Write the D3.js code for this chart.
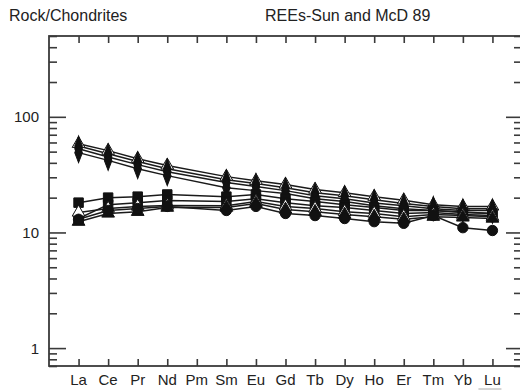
<!DOCTYPE html>
<html>
<head>
<meta charset="utf-8">
<script src="https://cdn.jsdelivr.net/npm/d3@7"></script>
<style>
  body { margin: 0; background: #fff; }
  svg { display: block; font-family: "Liberation Sans", Arial, sans-serif; }
</style>
</head>
<body>
<div id="chart"></div>
<script>
// Elements on the x axis (Pm has no data).
var elements = ['La', 'Ce', 'Pr', 'Nd', 'Pm', 'Sm', 'Eu', 'Gd', 'Tb', 'Dy', 'Ho', 'Er', 'Tm', 'Yb', 'Lu'];

// Rock / chondrite normalised values, one array per sample.
var u1 = [58.5, 51, 43.4, 38, null, 30.4, 28, 26, 23.5, 22, 20.4, 19, 17.4, 16.8, 16.8];
var u2 = [56, 48, 41, 35.6, null, 28.6, 26.5, 24.4, 22, 20.8, 19.2, 17.8, 16.8, 16, 16];
var u3 = [53, 45, 38.6, 33.5, null, 27, 25, 23, 20.8, 19.6, 18, 17, 16, 15.5, 15.5];
var u4 = [49, 42, 35.6, 31, null, 24.4, 23, 21.7, 19.6, 18.5, 17, 16, 15.5, 15, 14.6];
var l1 = [18.1, 20, 20.4, 21.3, null, 20.4, 21.3, 19.6, 18.5, 17.4, 16.4, 15.5, 15.5, 14.9, 14.6];
var l2 = [13.2, 17.4, 18.1, 18.9, null, 18.5, 19.6, 18.1, 17, 16.4, 15.5, 14.6, 14.9, 14.3, 14];
var l3 = [14.9, 16.1, 16.8, 17.1, null, 17, 18.5, 16.8, 16.1, 15.1, 14.6, 13.7, 14.3, 14, 13.7];
var l4 = [12.4, 14.6, 15.1, 16.4, null, 16.4, 17.8, 15.8, 15.1, 14.3, 13.7, 13, 13.7, 13.5, 13.2];
var l5 = [13, 15.5, 16.1, 16.8, null, 15.5, 16.8, 14.6, 14, 13.2, 12.4, 12, 14, 11, 10.4];

var yTicks = [1, 10, 100];

var samples = [
  { values: u1, symbol: 'triangle', fill: '#fff' },
  { values: u2, symbol: 'diamond', fill: '#111' },
  { values: u3, symbol: 'diamond', fill: '#111' },
  { values: u4, symbol: 'diamond', fill: '#111' },
  { values: l1, symbol: 'square', fill: '#111' },
  { values: l2, symbol: 'square', fill: '#111' },
  { values: l3, symbol: 'triangle', fill: '#fff' },
  { values: l4, symbol: 'triangle', fill: '#111' },
  { values: l5, symbol: 'circle', fill: '#111' }
];

var W = 520, H = 390;
var margin = { left: 49, right: 522, top: 36, bottom: 366 };

var svg = d3.select('#chart').append('svg')
  .attr('width', W)
  .attr('height', H);

var x = d3.scaleLinear().domain([-1, elements.length]).range([margin.left, margin.right]);
var y = d3.scaleLog().domain([0.7, 500]).range([margin.bottom, margin.top]);

// Titles.
svg.append('text')
  .attr('x', 9).attr('y', 21)
  .attr('font-size', 16).attr('fill', '#222')
  .text('Rock/Chondrites');

svg.append('text')
  .attr('x', 265).attr('y', 21)
  .attr('font-size', 16).attr('fill', '#222')
  .text('REEs-Sun and McD 89');

var axisColor = '#3a3a3a';

// Minor ticks on the log axis (2..9 of each decade).
var minor = [];
[0.1, 1, 10, 100].forEach(function(d) {
  for (var k = 2; k <= 9; k++) {
    var v = d * k;
    if (v >= 0.7 && v <= 500 && v !== 1 && v !== 10 && v !== 100) minor.push(v);
  }
});

var yAxisL = d3.axisRight(y).tickValues(minor).tickSize(8).tickFormat('');
var yAxisLMajor = d3.axisRight(y).tickValues(yTicks).tickSize(17).tickFormat('');
var yAxisR = d3.axisLeft(y).tickValues(minor).tickSize(8).tickFormat('');
var yAxisRMajor = d3.axisLeft(y).tickValues(yTicks).tickSize(16).tickFormat('');
var xAxisB = d3.axisTop(x).tickValues(d3.range(elements.length)).tickSize(7).tickFormat('');
var xAxisT = d3.axisBottom(x).tickValues(d3.range(elements.length)).tickSize(7).tickFormat('');

function styleAxis(g) {
  g.select('.domain').remove();
  g.selectAll('.tick line').attr('stroke', axisColor).attr('stroke-width', 1.6);
}

svg.append('g').attr('transform', 'translate(' + margin.left + ',0)').call(yAxisL).call(styleAxis);
svg.append('g').attr('transform', 'translate(' + margin.left + ',0)').call(yAxisLMajor).call(styleAxis);
svg.append('g').attr('transform', 'translate(' + margin.right + ',0)').call(yAxisR).call(styleAxis);
svg.append('g').attr('transform', 'translate(' + margin.right + ',0)').call(yAxisRMajor).call(styleAxis);
svg.append('g').attr('transform', 'translate(0,' + margin.bottom + ')').call(xAxisB).call(styleAxis);
svg.append('g').attr('transform', 'translate(0,' + margin.top + ')').call(xAxisT).call(styleAxis);

// Frame.
svg.append('rect')
  .attr('x', margin.left).attr('y', margin.top)
  .attr('width', margin.right - margin.left).attr('height', margin.bottom - margin.top)
  .attr('fill', 'none')
  .attr('stroke', axisColor)
  .attr('stroke-width', 1.8);

// Tick labels.
svg.append('g').selectAll('text')
  .data(yTicks)
  .enter().append('text')
  .attr('x', 39)
  .attr('y', function(d) { return y(d) + 5.5; })
  .attr('text-anchor', 'end')
  .attr('font-size', 15).attr('fill', '#222')
  .text(function(d) { return d; });

svg.append('g').selectAll('text')
  .data(elements)
  .enter().append('text')
  .attr('x', function(d, i) { return x(i); })
  .attr('y', 385)
  .attr('text-anchor', 'middle')
  .attr('font-size', 15).attr('fill', '#222')
  .text(function(d) { return d; });

// Faint mark under the Lu label.
svg.append('line')
  .attr('x1', x(14) - 14).attr('x2', x(14) + 9)
  .attr('y1', 389).attr('y2', 389)
  .attr('stroke', '#aaa').attr('stroke-width', 1);

// Sample lines; Pm is missing so Nd joins Sm directly.
var plot = svg.append('g');

var line = d3.line()
  .x(function(d) { return x(d.i); })
  .y(function(d) { return y(d.v); });

function points(values) {
  return values.map(function(v, i) { return { i: i, v: v }; })
    .filter(function(d) { return d.v != null; });
}

samples.forEach(function(s) {
  plot.append('path')
    .datum(points(s.values))
    .attr('fill', 'none')
    .attr('stroke', '#1a1a1a')
    .attr('stroke-width', 1.5)
    .attr('d', line);
});

var shapes = {
  triangle: d3.symbol().type(d3.symbolTriangle).size(70),
  square: d3.symbol().type(d3.symbolSquare).size(90),
  circle: d3.symbol().type(d3.symbolCircle).size(85),
  diamond: d3.symbol().type(d3.symbolDiamond).size(70)
};

samples.forEach(function(s) {
  plot.append('g').selectAll('path')
    .data(points(s.values))
    .enter().append('path')
    .attr('transform', function(d) {
      return 'translate(' + x(d.i) + ',' + y(d.v) + ')' + (s.symbol === 'diamond' ? ' scale(0.85,1.3)' : '');
    })
    .attr('d', shapes[s.symbol])
    .attr('fill', s.fill)
    .attr('stroke', '#111')
    .attr('stroke-width', 1);
});
</script>
</body>
</html>
